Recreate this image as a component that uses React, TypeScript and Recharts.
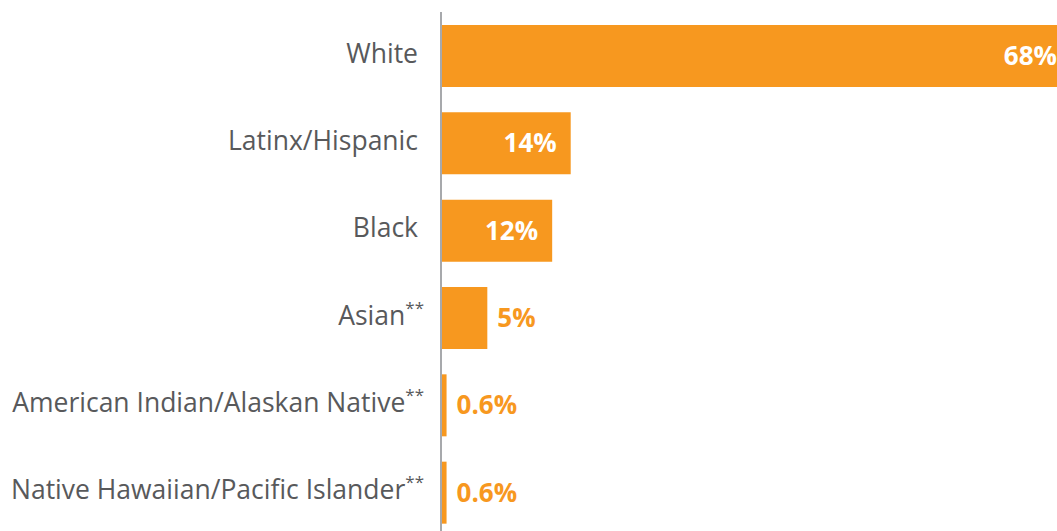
import { Bar, BarChart, LabelList, XAxis, YAxis } from "recharts";

const CATEGORIES = [
  "White",
  "Latinx/Hispanic",
  "Black",
  "Asian**",
  "American Indian/Alaskan Native**",
  "Native Hawaiian/Pacific Islander**",
];
const SHARES = [68, 14, 12, 5, 0.6, 0.6];

const ORANGE = "#F7981F";
const GREY = "#58595B";
const FONT = "'Open Sans', sans-serif";

const data = CATEGORIES.map((name, i) => ({ name, share: SHARES[i] }));

function CategoryTick(props: any) {
  const { x, y, payload } = props;
  const label: string = payload.value;
  const starred = label.endsWith("**");
  const main = starred ? label.slice(0, -2) : label;
  return (
    <text
      x={x - (starred ? 17 : 23)}
      y={y - 3}
      textAnchor="end"
      dominantBaseline="central"
      fill={GREY}
      fontFamily={FONT}
      fontSize={26.5}
    >
      {main}
      {starred && (
        <tspan fontSize={17} dy={-8}>
          **
        </tspan>
      )}
    </text>
  );
}

function ValueLabel(props: any) {
  const { x, y, width, height, value } = props;
  const inside = value >= 10;
  return (
    <text
      x={inside ? x + width - 14 : x + width + 10}
      y={y + height / 2 - 1}
      textAnchor={inside ? "end" : "start"}
      dominantBaseline="central"
      fill={inside ? "#ffffff" : ORANGE}
      fontFamily={FONT}
      fontWeight={700}
      fontSize={26}
    >
      {value}%
    </text>
  );
}

export default function App() {
  return (
    <div
      style={{
        position: "absolute",
        left: 0,
        top: 0,
        width: 1057,
        height: 531,
        overflow: "hidden",
        background: "#fff",
      }}
    >
      <BarChart
        width={1100}
        height={542}
        data={data}
        layout="vertical"
        margin={{ top: 12, right: 29, bottom: 6, left: 0 }}
      >
        <XAxis type="number" domain={[0, 68]} hide />
        <YAxis
          type="category"
          dataKey="name"
          width={441}
          axisLine={{ stroke: "#A7A9AC", strokeWidth: 2 }}
          tickLine={false}
          tickSize={0}
          tickMargin={0}
          tick={<CategoryTick />}
          interval={0}
        />
        <Bar dataKey="share" fill={ORANGE} barSize={62} isAnimationActive={false}>
          <LabelList dataKey="share" content={<ValueLabel />} />
        </Bar>
      </BarChart>
    </div>
  );
}
